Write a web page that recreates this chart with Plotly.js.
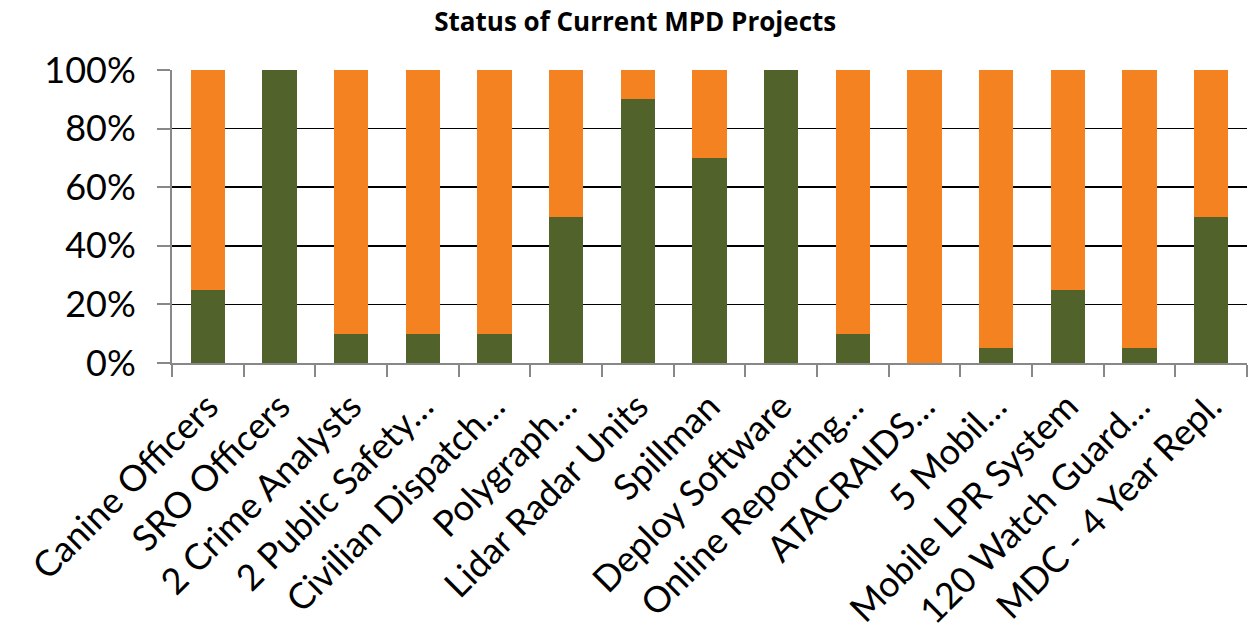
<!DOCTYPE html>
<html>
<head>
<meta charset="utf-8">
<script src="https://cdn.plot.ly/plotly-3.0.1.min.js"></script>
<style>html,body{margin:0;padding:0;background:#fff;}#chart{width:1248px;height:637px;}</style>
</head>
<body>
<div id="chart"></div>
<script>
var categories = ["Canine Officers", "SRO Officers", "2 Crime Analysts", "2 Public Safety…", "Civilian Dispatch…", "Polygraph…", "Lidar Radar Units", "Spillman", "Deploy Software", "Online Reporting…", "ATACRAIDS…", "5 Mobil…", "Mobile LPR System", "120 Watch Guard…", "MDC - 4 Year Repl."];
var completed = [0.25, 1.00, 0.10, 0.10, 0.10, 0.50, 0.90, 0.70, 1.00, 0.10, 0.00, 0.05, 0.25, 0.05, 0.50];
var remaining = [0.75, 0.00, 0.90, 0.90, 0.90, 0.50, 0.10, 0.30, 0.00, 0.90, 1.00, 0.95, 0.75, 0.95, 0.50];
var yTicks = [0, 0.2, 0.4, 0.6, 0.8, 1.0];

var data = [
  {type: 'bar', x: categories, y: completed, name: 'Complete', marker: {color: '#51622A'}, hoverinfo: 'x+y'},
  {type: 'bar', x: categories, y: remaining, name: 'Remaining', marker: {color: '#F58220'}, hoverinfo: 'x+y'}
];

var layout = {
  width: 1248, height: 637,
  margin: {l: 172, r: 1, t: 70, b: 274},
  paper_bgcolor: '#fff', plot_bgcolor: '#fff',
  barmode: 'stack', bargap: 0.52,
  showlegend: false,
  font: {family: 'Lato, "Open Sans", sans-serif', color: '#000'},
  title: {text: '<b>Status of Current MPD Projects</b>', x: 0.509, xanchor: 'center', y: 0.965, yanchor: 'middle', font: {size: 26, family: '"Open Sans", sans-serif', color: '#000'}},
  xaxis: {
    type: 'category', tickangle: -45, tickfont: {size: 36},
    ticks: 'outside', tickson: 'boundaries', ticklen: 12, tickcolor: '#888', tickwidth: 2, ticklabelstandoff: 6,
    showline: true, linecolor: '#888', linewidth: 2, showgrid: false, zeroline: false,
    automargin: false
  },
  yaxis: {
    range: [0, 1], tickvals: yTicks, tickformat: '.0%', tickfont: {size: 36},
    ticks: 'outside', ticklen: 13, tickcolor: '#888', tickwidth: 2, ticklabelstandoff: 14,
    showline: true, linecolor: '#888', linewidth: 2,
    showgrid: true, gridcolor: '#000', gridwidth: 1.5, zeroline: false,
    automargin: false
  }
};

Plotly.newPlot('chart', data, layout, {displayModeBar: false, staticPlot: true});
</script>
</body>
</html>
